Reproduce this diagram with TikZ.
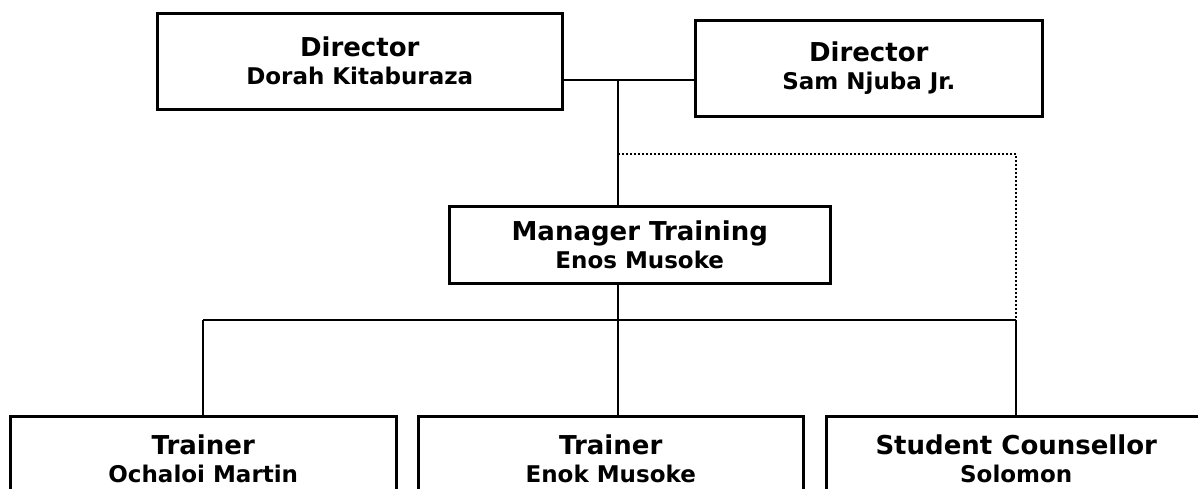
\documentclass[tikz,border=0pt]{standalone}
\usepackage{fontspec}
\setmainfont{DejaVu Sans}
\begin{document}
\begin{tikzpicture}[x=1pt,y=-1pt,
  box/.style={draw,line width=2.5pt,inner sep=0pt,align=center,anchor=north west,
    font=\fontsize{23}{28}\selectfont\bfseries},
  conn/.style={line width=2.4pt},
  dotconn/.style={line width=2pt,dash pattern=on 2pt off 2pt}]
\useasboundingbox (0,0) rectangle (1198,488);
\newcommand{\boxtext}[2]{{\fontsize{26}{28}\selectfont #1}\\#2}
\node[box,minimum width=405pt,minimum height=96pt] (d1) at (156,12) {\boxtext{Director}{Dorah Kitaburaza}};
\node[box,minimum width=347pt,minimum height=96pt] (d2) at (694,19) {\boxtext{Director}{Sam Njuba Jr.}};
\node[box,minimum width=381pt,minimum height=77pt] (mgr) at (448,205) {\boxtext{Manager Training}{Enos Musoke}};
\node[box,minimum width=386pt,minimum height=86pt] (t1) at (9,415) {\boxtext{Trainer}{Ochaloi Martin}};
\node[box,minimum width=385pt,minimum height=86pt] (t2) at (417,415) {\boxtext{Trainer}{Enok Musoke}};
\node[box,minimum width=380pt,minimum height=86pt] (t3) at (825,415) {\boxtext{Student Counsellor}{Solomon}};
\coordinate (j) at (618,80);
\coordinate (bus) at (618,320);
\coordinate (dot) at (618,154);
\draw[conn] (j -| d1.east) -- (j -| d2.west);
\draw[conn] (j) -- (j |- mgr.north);
\draw[conn] (j |- mgr.south) -- (j |- t2.north);
\draw[conn] (bus -| t1.north) -- (bus -| t3.north);
\draw[conn] (bus -| t1.north) -- (t1.north);
\draw[conn] (bus -| t3.north) -- (t3.north);
\draw[dotconn] (dot) -- (dot -| t3.north) -- (bus -| t3.north);
\end{tikzpicture}
\end{document}
